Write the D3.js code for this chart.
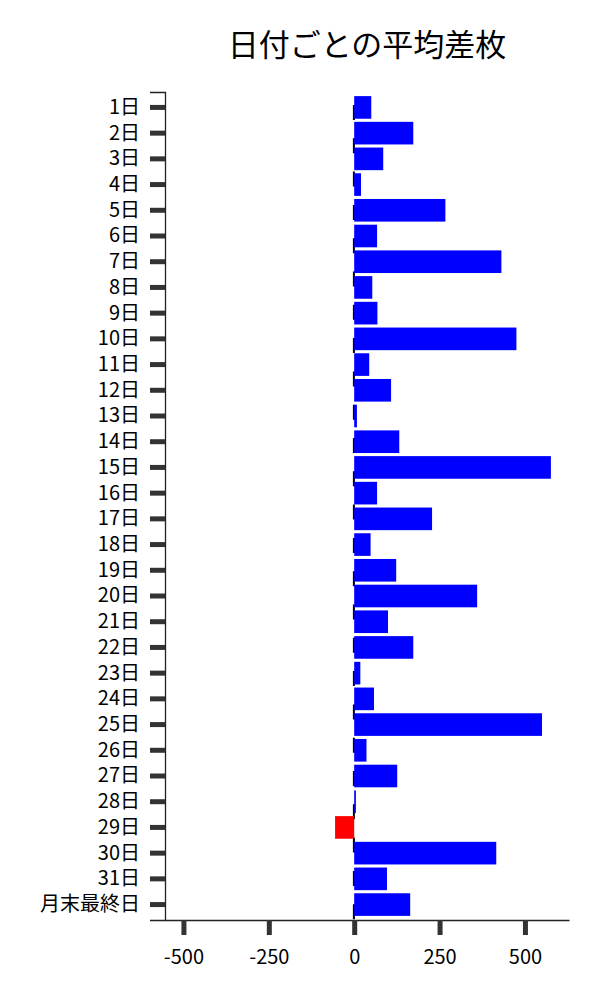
<!DOCTYPE html>
<html>
<head>
<meta charset="utf-8">
<script src="https://cdn.jsdelivr.net/npm/d3@7"></script>
<style>
  body { margin: 0; background: #fff; }
  text { font-family: "Noto Sans CJK JP", "Noto Sans", sans-serif; }
</style>
</head>
<body>
<div id="chart"></div>
<script>
// daily average差枚 per day-of-month
const days = ['1日', '2日', '3日', '4日', '5日', '6日', '7日', '8日', '9日', '10日',
  '11日', '12日', '13日', '14日', '15日', '16日', '17日', '18日', '19日', '20日',
  '21日', '22日', '23日', '24日', '25日', '26日', '27日', '28日', '29日', '30日',
  '31日', '月末最終日'];
const avgDiff = [50, 173, 85, 20, 267, 67, 431, 53, 68, 475,
  44, 108, 8, 132, 576, 67, 228, 48, 123, 360,
  99, 173, 18, 58, 550, 36, 126, 5, -56, 416,
  96, 164];
const xTicks = [-500, -250, 0, 250, 500];

const w = 600, h = 1000;
const margin = { top: 92, right: 31, bottom: 80, left: 165 };

const svg = d3.select('#chart').append('svg')
  .attr('width', w)
  .attr('height', h);

const x = d3.scaleLinear()
  .domain([-554, 629])
  .range([margin.left, w - margin.right]);

const y = d3.scaleBand()
  .domain(days)
  .range([margin.top, h - margin.bottom])
  .paddingInner(0.12)
  .paddingOuter(0.16);

// dashed zero line, sits behind the bars
svg.append('line')
  .attr('x1', x(0) - 0.3)
  .attr('x2', x(0) - 0.3)
  .attr('y1', margin.top)
  .attr('y2', h - margin.bottom)
  .attr('stroke', '#000')
  .attr('stroke-width', 2)
  .attr('stroke-dasharray', '15,18.3')
  .attr('stroke-dashoffset', 20.3);

// bars
svg.append('g')
  .selectAll('rect')
  .data(days.map((d, i) => ({ day: d, v: avgDiff[i] })))
  .join('rect')
  .attr('x', d => x(Math.min(0, d.v)))
  .attr('y', d => y(d.day))
  .attr('width', d => Math.abs(x(d.v) - x(0)))
  .attr('height', y.bandwidth())
  .attr('fill', d => d.v < 0 ? '#ff0000' : '#0000ff');

// y axis
const yAxis = svg.append('g')
  .attr('transform', `translate(${margin.left},0)`)
  .call(d3.axisLeft(y).tickSize(15).tickPadding(10));
yAxis.select('.domain').attr('stroke', '#222').attr('stroke-width', 1.3);
yAxis.selectAll('.tick line').attr('stroke', '#333').attr('stroke-width', 5);
yAxis.selectAll('.tick text')
  .attr('font-size', '20px')
  .attr('fill', '#000')
  .attr('font-family', '"Noto Sans CJK JP", sans-serif');

// x axis
const xAxis = svg.append('g')
  .attr('transform', `translate(0,${h - margin.bottom})`)
  .call(d3.axisBottom(x).tickValues(xTicks).tickFormat(d => String(d)).tickSize(15).tickPadding(15).tickSizeOuter(0));
xAxis.select('.domain').attr('stroke', '#222').attr('stroke-width', 1.3);
xAxis.selectAll('.tick line').attr('stroke', '#333').attr('stroke-width', 5);
xAxis.selectAll('.tick text')
  .attr('font-size', '20px')
  .attr('fill', '#000')
  .attr('font-family', '"Noto Sans CJK JP", sans-serif');

// title
svg.append('text')
  .attr('x', (margin.left + w - margin.right) / 2)
  .attr('y', 56)
  .attr('text-anchor', 'middle')
  .attr('font-size', '31px')
  .attr('fill', '#000')
  .text('日付ごとの平均差枚');
</script>
</body>
</html>
